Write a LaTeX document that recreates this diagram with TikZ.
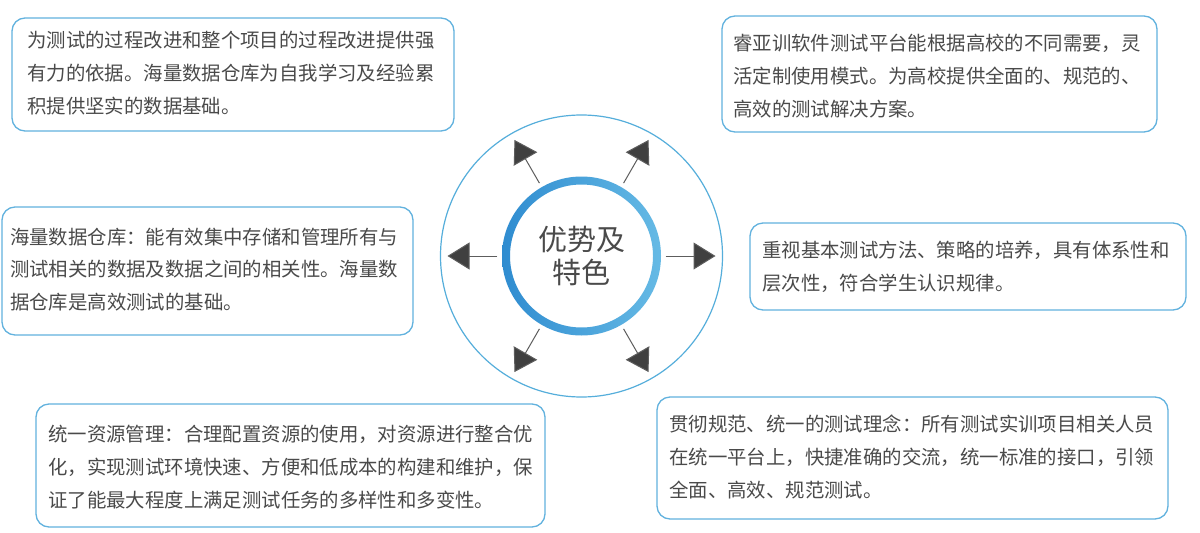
\documentclass[tikz,border=0pt]{standalone}
\usepackage{fontspec}
\setmainfont{Noto Sans CJK SC}
\usetikzlibrary{arrows.meta}
\definecolor{txtc}{HTML}{4A4A4A}
\definecolor{boxc}{HTML}{62B2DE}
\definecolor{outerc}{HTML}{55AEDB}
\definecolor{ringL}{HTML}{2F8CD0}
\definecolor{ringR}{HTML}{66BAE5}
\definecolor{arrc}{HTML}{404040}
\begin{document}
\begin{tikzpicture}[x=1pt,y=-1pt,
  panel/.style={draw=boxc, line width=1.3pt, rounded corners=13pt, fill=white},
  para/.style={text=txtc, align=left, inner sep=0pt, font=\fontsize{19.4}{32.8}\selectfont},
  spoke/.style={draw=arrc!85, line width=1pt, -{Triangle[length=22pt,width=27pt,fill=arrc]}}
]
\path[use as bounding box, fill=white] (0,0) rectangle (1200,533);

% boxes
\draw[panel] (12,18) rectangle (454,131);
\draw[panel] (722,16) rectangle (1157,132);
\draw[panel] (2,207) rectangle (413,335);
\draw[panel] (750,223) rectangle (1186,310);
\draw[panel] (36,404) rectangle (545,527);
\draw[panel] (657,397) rectangle (1168,519);

% texts (anchor = baseline of last line)
\node[para, anchor=base west] (t1) at (27,113.1) {为测试的过程改进和整个项目的过程改进提供强\\有力的依据。海量数据仓库为自我学习及经验累\\积提供坚实的数据基础。};
\node[para, anchor=base west] (t2) at (733,116.1) {睿亚训软件测试平台能根据高校的不同需要，灵\\活定制使用模式。为高校提供全面的、规范的、\\高效的测试解决方案。};
\node[para, anchor=base west] (t3) at (10,309.6) {海量数据仓库：能有效集中存储和管理所有与\\测试相关的数据及数据之间的相关性。海量数\\据仓库是高效测试的基础。};
\node[para, anchor=base west] (t4) at (762,290.3) {重视基本测试方法、策略的培养，具有体系性和\\层次性，符合学生认识规律。};
\node[para, anchor=base west] (t5) at (48,507.1) {统一资源管理：合理配置资源的使用，对资源进行整合优\\化，实现测试环境快速、方便和低成本的构建和维护，保\\证了能最大程度上满足测试任务的多样性和多变性。};
\node[para, anchor=base west] (t6) at (669,497.1) {贯彻规范、统一的测试理念：所有测试实训项目相关人员\\在统一平台上，快捷准确的交流，统一标准的接口，引领\\全面、高效、规范测试。};

% circles
\draw[outerc, line width=1.2pt] (581.5,256) circle[radius=141];
\shade[left color=ringL, right color=ringR, even odd rule] (581.5,256) circle[radius=79.5] (581.5,256) circle[radius=71.5];
\node[circle, minimum size=168pt, inner sep=0pt, align=center, text=txtc,
  font=\fontsize{29}{33}\selectfont] (core) at (581.5,256) {优势及\\特色};

% tips
\coordinate (tR)  at ([shift={(0:134)}]581.5,256);
\coordinate (tL)  at ([shift={(180:134)}]581.5,256);
\coordinate (tUL) at ([shift={(-120:134)}]581.5,256);
\coordinate (tUR) at ([shift={(-60:134)}]581.5,256);
\coordinate (tLL) at ([shift={(120:134)}]581.5,256);
\coordinate (tLR) at ([shift={(60:134)}]581.5,256);

\draw[spoke] (core.0) -- (tR);
\draw[spoke] (core.180) -- (tL);
\draw[spoke] (core.120) -- (tUL);
\draw[spoke] (core.60) -- (tUR);
\draw[spoke] (core.-120) -- (tLL);
\draw[spoke] (core.-60) -- (tLR);
\end{tikzpicture}
\end{document}
